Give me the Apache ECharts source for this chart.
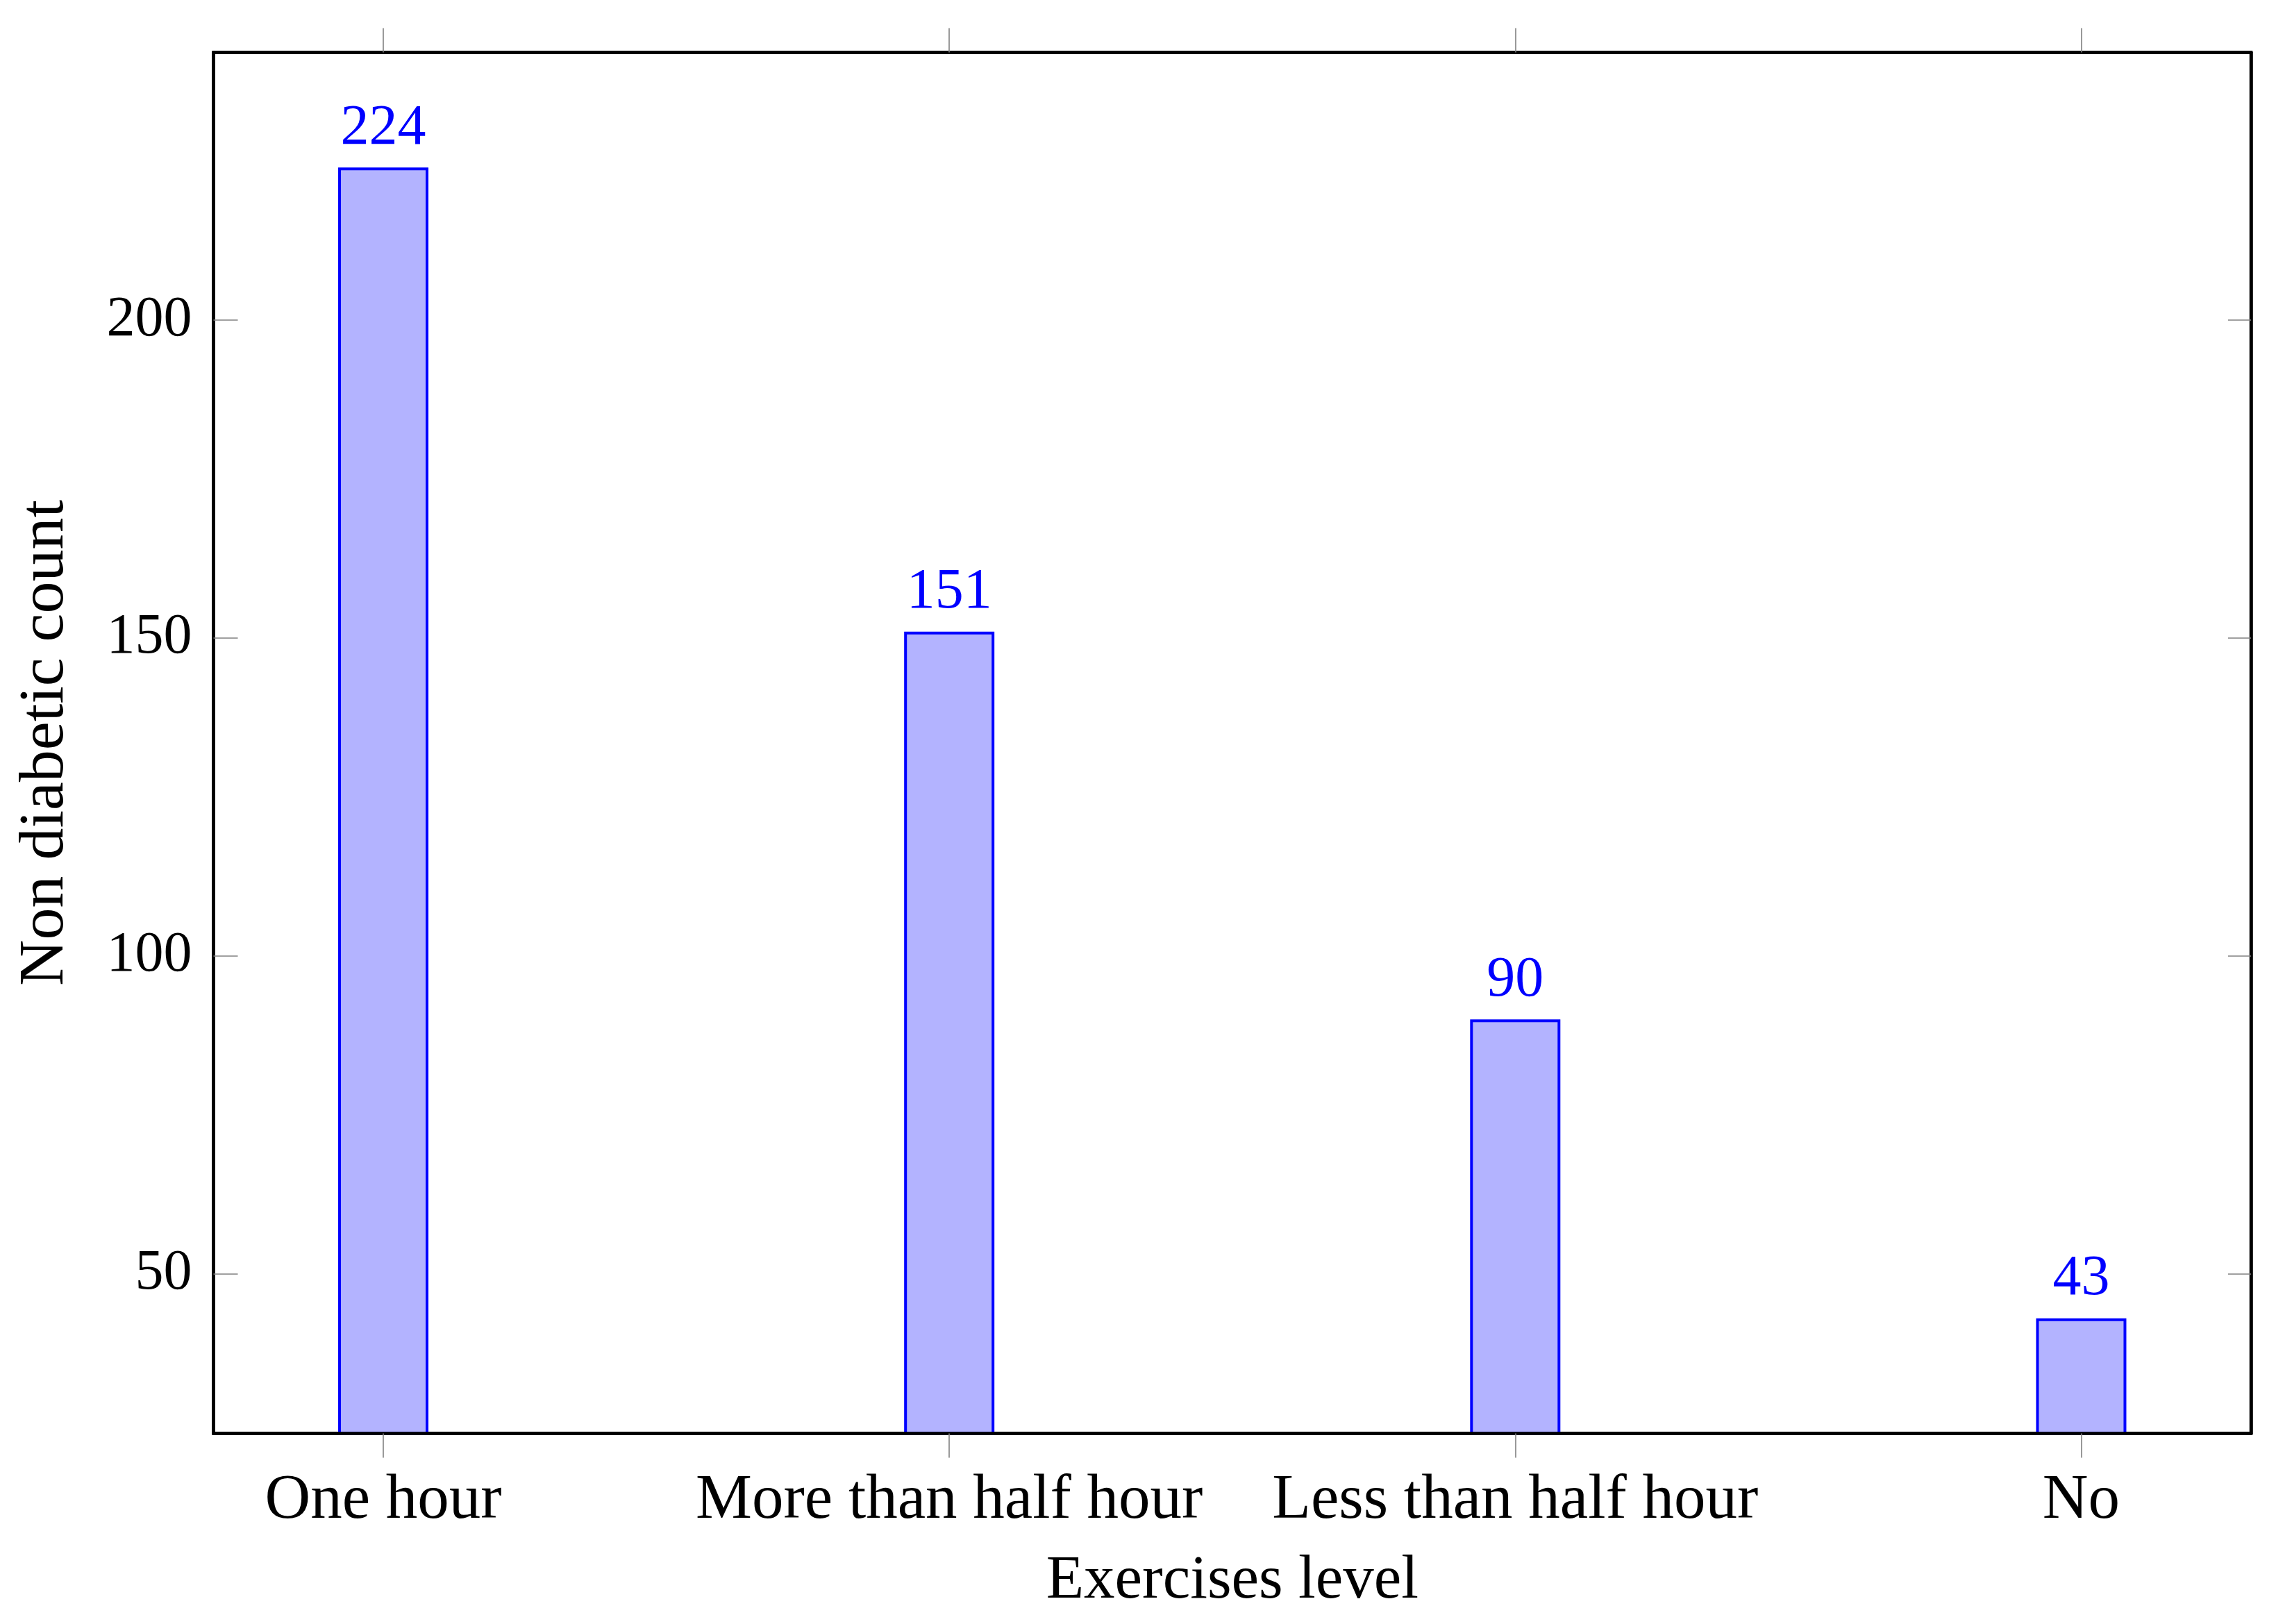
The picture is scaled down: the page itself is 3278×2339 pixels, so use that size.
<!DOCTYPE html>
<html>
<head>
<meta charset="utf-8">
<script src="https://cdn.jsdelivr.net/npm/echarts@6/dist/echarts.min.js"></script>
<style>
  html, body { margin: 0; padding: 0; background: #ffffff; }
  #chart { width: 3278px; height: 2339px; }
</style>
</head>
<body>
<div id="chart"></div>
<script>
// ---- data ----
const categories = ['One hour', 'More than half hour', 'Less than half hour', 'No'];
const counts = [224, 151, 90, 43];
const yTickValues = [50, 100, 150, 200];
const xTickPositions = [0, 1, 2, 3];
const xTitle = 'Exercises level';
const yTitle = 'Non diabetic count';

// ---- styling ----
const FONT = 'Liberation Serif';
const TEXT_SIZE = 91;
const NUM_SIZE = 82;
const TICK_COLOR = '#808080';
const FRAME_W = 4.5;

// axis limits (10% enlargement of the data range, as in the source plot)
const yMin = 24.9, yMax = 242.1;
const xMin = -0.3, xMax = 3.3;

const chart = echarts.init(document.getElementById('chart'), null, { renderer: 'canvas' });

const frameLine = { show: true, onZero: false, lineStyle: { color: '#000', width: FRAME_W } };

const option = {
  backgroundColor: '#ffffff',
  animation: false,
  grid: {
    left: 307.5, top: 75.5, width: 2934.5, height: 1989,
    show: true, borderColor: '#000', borderWidth: FRAME_W, backgroundColor: 'transparent'
  },
  xAxis: [
    {
      type: 'value', position: 'bottom', min: xMin, max: xMax, z: 10,
      axisLine: frameLine,
      splitLine: { show: false },
      axisTick: { show: true, inside: false, length: 35, customValues: xTickPositions,
                  lineStyle: { color: TICK_COLOR, width: 1.6 } },
      axisLabel: { show: true, customValues: xTickPositions, margin: 52,
                   fontFamily: FONT, fontSize: TEXT_SIZE, lineHeight: TEXT_SIZE, color: '#000',
                   formatter: v => categories[Math.round(v)] },
      name: xTitle, nameLocation: 'middle', nameGap: 168,
      nameTextStyle: { fontFamily: FONT, fontSize: 89, lineHeight: 90, color: '#000' }
    },
    {
      type: 'value', position: 'top', min: xMin, max: xMax, z: 10,
      axisLine: frameLine,
      splitLine: { show: false },
      axisTick: { show: true, inside: false, length: 35, customValues: xTickPositions,
                  lineStyle: { color: TICK_COLOR, width: 1.6 } },
      axisLabel: { show: false }
    }
  ],
  yAxis: [
    {
      type: 'value', position: 'left', min: yMin, max: yMax, z: 10,
      axisLine: frameLine,
      splitLine: { show: false },
      axisTick: { show: true, inside: true, length: 35, customValues: yTickValues,
                  lineStyle: { color: TICK_COLOR, width: 1.6 } },
      axisLabel: { show: true, customValues: yTickValues, margin: 31,
                   fontFamily: FONT, fontSize: NUM_SIZE, color: '#000' },
      name: yTitle, nameLocation: 'middle', nameGap: 196, nameRotate: 90,
      nameTextStyle: { fontFamily: FONT, fontSize: 92, lineHeight: 92, color: '#000' }
    },
    {
      type: 'value', position: 'right', min: yMin, max: yMax, z: 10,
      axisLine: frameLine,
      splitLine: { show: false },
      axisTick: { show: true, inside: true, length: 33, customValues: yTickValues,
                  lineStyle: { color: TICK_COLOR, width: 1.6 } },
      axisLabel: { show: false }
    }
  ],
  series: [
    {
      type: 'bar',
      xAxisIndex: 0, yAxisIndex: 0,
      data: counts.map((v, i) => [xTickPositions[i], v]),
      barWidth: 130,
      clip: true,
      itemStyle: { color: '#b3b3ff', borderColor: '#0000ff', borderWidth: 4 },
      label: {
        show: true, position: 'top', distance: 15,
        fontFamily: FONT, fontSize: NUM_SIZE, lineHeight: NUM_SIZE, color: '#0000ff',
        formatter: p => String(p.value[1])
      }
    }
  ]
};

chart.setOption(option);
</script>
</body>
</html>
